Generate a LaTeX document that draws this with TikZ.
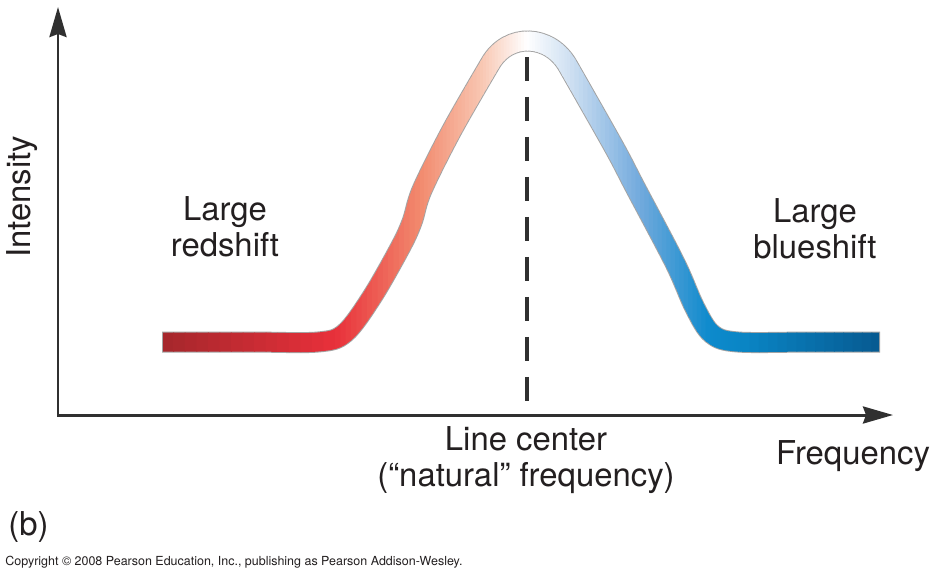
\documentclass[tikz,border=0pt]{standalone}
\usepackage{fontspec}
\setmainfont{TeX Gyre Heros}
\usetikzlibrary{arrows.meta}

\definecolor{inkgray}{HTML}{303030}
\definecolor{textgray}{HTML}{231F20}
\definecolor{bandrim}{HTML}{A4A4A4}
\definecolor{darkred}{HTML}{A0262B}
\definecolor{brightred}{HTML}{E8303A}
\definecolor{salmon}{HTML}{F28A6E}
\definecolor{palesalmon}{HTML}{F8C5B0}
\definecolor{paleblue}{HTML}{CFE0F2}
\definecolor{midblue}{HTML}{72AADD}
\definecolor{skyblue}{HTML}{0D8ACC}
\definecolor{deepsky}{HTML}{0A86C6}
\definecolor{darkblue}{HTML}{06578D}

\tikzset{
    axisline/.style={draw=inkgray, line width=0.06cm},
    centerdash/.style={draw=inkgray, line width=0.09cm, dash pattern=on 0.48cm off 0.32cm},
    bandedge/.style={draw=bandrim, line width=0.42cm},
    bandcore/.style={line width=0.38cm, shorten <=0.02cm, shorten >=0.02cm},
    bigtext/.style={font=\fontsize{18.7}{20.5}\selectfont, text=textgray, align=center, inner sep=0pt},
}

% centre line of the spectral band: rise, rounded cap, fall
\newcommand\bandline{plot[smooth, tension=0.55] coordinates {(162,342) (250,342) (318,342)
    (345,333) (372,297) (400,248) (412,222) (422,190) (452,130) (490,64)}
    .. controls (508,32) and (550,34) .. (568,66)
    -- plot[smooth, tension=0.55] coordinates {(568,66) (614,147) (635,187) (675,263) (695,308)
    (712,334) (738,342) (810,342) (880,342)}}

% one coloured stretch of the band, cut into thin strips
\newcommand\bandpiece[4]{%
    \foreach \k in {0,...,15}{
        \pgfmathsetmacro\xa{#1+(#2-#1)*\k/16}
        \pgfmathsetmacro\xb{#1+(#2-#1)*(\k+1)/16+1}
        \pgfmathsetmacro\pct{100-100*(\k+0.5)/16}
        \colorlet{stripc}{#3!\pct!#4}
        \begin{scope}
            \clip (\xa,0) rectangle (\xb,579);
            \draw[bandcore, draw=stripc] \bandline;
        \end{scope}
    }}

\begin{document}
\begin{tikzpicture}[x=0.02cm, y=-0.02cm]
    \useasboundingbox[fill=white] (0,0) rectangle (941,579);

    \coordinate (O) at (58,415);
    \coordinate (ytip) at (58,7);
    \coordinate (xtip) at (893,415);
    \coordinate (dtop) at (527,57);
    \coordinate (dfoot) at (527,415);

    \draw[bandedge] \bandline;
    \bandpiece{150}{335}{darkred}{brightred}
    \bandpiece{335}{420}{brightred}{salmon}
    \bandpiece{420}{480}{salmon}{palesalmon}
    \bandpiece{480}{527}{palesalmon}{white}
    \bandpiece{527}{570}{white}{paleblue}
    \bandpiece{570}{640}{paleblue}{midblue}
    \bandpiece{640}{710}{midblue}{skyblue}
    \bandpiece{710}{740}{skyblue}{deepsky}
    \bandpiece{740}{890}{deepsky}{darkblue}

    \draw[centerdash] (dtop) -- (dfoot);
    \draw[axisline, {Stealth[length=0.6cm, width=0.34cm, inset=0.06cm]}-{Stealth[length=0.6cm, width=0.34cm, inset=0.06cm]}] (ytip) -- (O) -- (xtip);

    \node[bigtext, rotate=90] (intensity) at (22,197) {Intensity};
    \node[bigtext] (redshift) at (225,227) {Large\\redshift};
    \node[bigtext] (blueshift) at (815,229) {Large\\blueshift};
    \node[bigtext] (linecenter) at (526,460) {Line center\\(“natural” frequency)};
    \node[bigtext] (frequency) at (853,456) {Frequency};
    \node[bigtext, anchor=west] (partb) at (8,527) {(b)};
    \node[anchor=west, inner sep=0pt, text=textgray, font=\fontsize{7.1}{8}\selectfont] (copyright) at (5,562)
        {Copyright © 2008 Pearson Education, Inc., publishing as Pearson Addison-Wesley.};
\end{tikzpicture}
\end{document}
